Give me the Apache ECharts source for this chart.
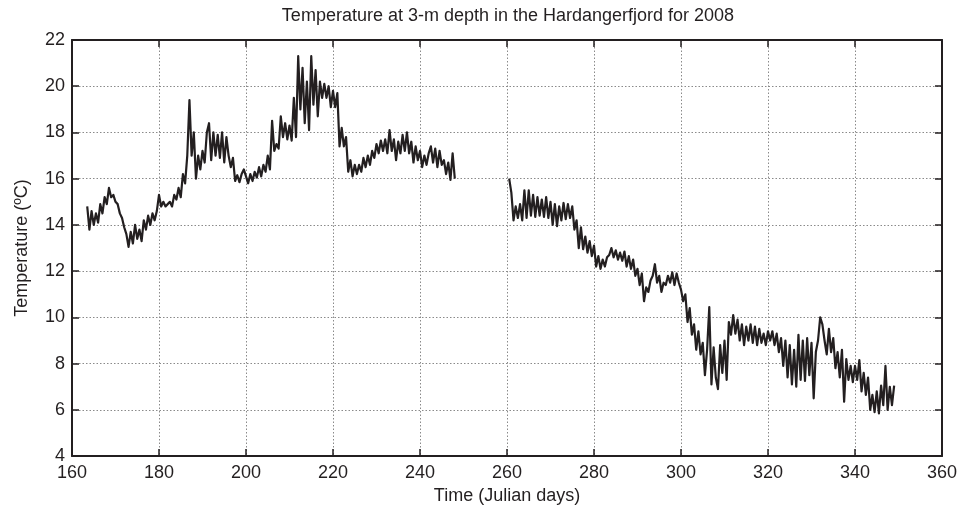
<!DOCTYPE html>
<html>
<head>
<meta charset="utf-8">
<script src="https://cdn.jsdelivr.net/npm/echarts@6/dist/echarts.min.js"></script>
<style>
  html, body { margin: 0; padding: 0; background: #fff; }
  #chart { width: 963px; height: 510px; }
</style>
</head>
<body>
<div id="chart"></div>
<script>
  // sampling: every half day, first segment starts day 163.5, second 260.5
  const start1 = 163.5
  const start2 = 260.5
  const step = 0.5

  // temperature readings (ºC), first segment (day 163.5 - 248)
  const temps1 = [
    14.8, 13.8, 14.6, 14.0, 14.5, 14.1, 14.9, 14.5, 15.2, 14.9,
    15.6, 15.2, 15.3, 15.0, 14.9, 14.5, 14.3, 13.9, 13.6, 13.05,
    13.7, 13.2, 14.0, 13.4, 13.8, 13.3, 14.2, 13.8, 14.4, 14.0,
    14.5, 14.2, 14.6, 15.3, 14.8, 15.0, 14.8, 14.9, 15.0, 14.8,
    15.3, 15.1, 15.6, 15.2, 16.2, 15.8, 17.0, 19.4, 17.0, 18.0,
    16.0, 17.0, 16.4, 17.2, 16.7, 18.0, 18.4, 16.8, 18.0, 17.0,
    17.9, 16.9, 18.0, 16.7, 17.8, 17.0, 16.5, 16.9, 15.9, 16.15,
    15.85, 16.2, 16.4, 16.1, 15.8, 16.2, 15.9, 16.3, 16.05, 16.5,
    16.1, 16.6, 16.3, 17.0, 16.4, 18.5, 17.2, 17.5, 17.3, 18.7,
    17.8, 18.4, 17.7, 18.3, 17.65, 19.5, 17.8, 21.3, 19.0, 20.8,
    18.4, 20.2, 18.1, 21.3, 19.2, 20.7, 18.7, 20.2, 19.5, 20.1,
    19.5, 20.0, 19.1, 19.8, 19.1, 19.7, 17.4, 18.2, 17.4, 17.8,
    16.3, 16.8, 16.1, 16.6, 16.2, 16.6, 16.3, 16.9, 16.5, 17.0,
    16.6, 17.2, 16.9, 17.5, 17.1, 17.65, 17.2, 17.7, 17.1, 18.1,
    17.2, 17.7, 16.8, 17.6, 17.1, 17.9, 17.2, 18.0, 17.1, 17.6,
    16.7, 17.4, 16.8, 17.2, 16.5, 17.0, 16.6, 17.1, 17.4, 16.7,
    17.3, 16.5, 17.2, 16.6, 16.8, 16.2, 16.7, 15.95, 17.1, 16.0
  ]

  // second segment (day 260.5 - 349)
  const temps2 = [
    16.0, 15.4, 14.2, 14.8, 14.3, 14.9, 14.2, 15.5, 14.3, 15.5,
    14.4, 15.3, 14.35, 15.2, 14.4, 15.1, 14.35, 15.2, 14.3, 15.0,
    14.0, 14.9, 13.95, 14.8, 14.2, 14.95, 14.25, 14.9, 14.3, 14.8,
    13.8, 14.2, 13.0, 13.9, 12.95, 13.5, 12.8, 13.3, 12.65, 13.1,
    12.2, 12.65, 12.1, 12.5, 12.2, 12.6, 12.7, 13.0, 12.6, 12.9,
    12.5, 12.8, 12.45, 12.85, 12.2, 12.65, 12.1, 12.5, 11.8, 12.1,
    11.4, 11.9, 10.7, 11.3, 11.1, 11.6, 11.8, 12.3, 11.5, 11.8,
    11.1, 11.5, 11.4, 11.8, 11.5, 11.95, 11.4, 11.9, 11.5, 11.2,
    10.7, 11.0, 9.8, 10.4, 9.25, 9.7, 8.6, 9.4, 8.4, 8.9,
    7.5, 8.6, 10.45, 7.1, 8.7, 7.4, 6.9, 8.8, 7.6, 9.0,
    7.3, 9.8, 9.25, 10.1, 9.3, 9.9, 9.0, 9.7, 8.8, 9.6,
    9.0, 9.7, 8.9, 9.6, 8.8, 9.5, 8.9, 9.3, 8.8, 9.4,
    9.0, 9.4, 8.8, 9.3, 8.5, 9.1, 7.9, 9.0, 7.4, 8.8,
    7.1, 8.6, 7.0, 9.25, 7.3, 9.0, 7.25, 9.1, 7.5, 8.9,
    6.5, 8.5, 9.0, 10.0, 9.7, 9.0, 8.4, 9.5, 8.5, 9.1,
    7.8, 8.5, 7.4, 8.6, 6.35, 8.2, 7.3, 7.9, 7.2, 7.9,
    7.3, 8.15, 6.8, 7.6, 6.65, 7.4, 6.0, 6.65, 5.9, 6.8,
    5.85, 7.05, 6.2, 7.9, 6.0, 7.0, 6.2, 7.05
  ]

  const xTicks = [160, 180, 200, 220, 240, 260, 280, 300, 320, 340, 360]
  const yTicks = [4, 6, 8, 10, 12, 14, 16, 18, 20, 22]

  function toPairs(start, temps) {
    return temps.map((t, i) => [start + i * step, t])
  }

  const ink = '#231f20'
  const font = 'Liberation Sans, Arial, sans-serif'

  let myChart = echarts.init(document.getElementById('chart'))

  let tickStyle = {
    show: true,
    inside: true,
    length: 7,
    lineStyle: { color: ink, width: 1.5 }
  }
  let gridLines = {
    show: true,
    lineStyle: { color: '#8a8a8a', type: [1.5, 2], width: 1 }
  }
  let labelStyle = {
    color: ink,
    fontSize: 18,
    fontFamily: font
  }

  let option = {
    animation: false,
    backgroundColor: '#fff',
    title: {
      text: 'Temperature at 3-m depth in the Hardangerfjord for 2008',
      left: 503,
      textAlign: 'center',
      top: 2,
      textStyle: {
        color: ink,
        fontSize: 18,
        fontWeight: 'normal',
        fontFamily: font
      }
    },
    grid: {
      left: 72,
      right: 21,
      top: 40,
      bottom: 51
    },
    xAxis: [
      {
        type: 'value',
        min: xTicks[0],
        max: xTicks[xTicks.length - 1],
        interval: 20,
        name: 'Time (Julian days)',
        nameLocation: 'middle',
        nameGap: 30,
        nameTextStyle: { color: ink, fontSize: 18, fontFamily: font },
        axisLine: { show: true, onZero: false, lineStyle: { color: ink, width: 2 } },
        axisTick: tickStyle,
        axisLabel: Object.assign({ margin: 8 }, labelStyle),
        splitLine: gridLines
      },
      {
        type: 'value',
        position: 'top',
        min: xTicks[0],
        max: xTicks[xTicks.length - 1],
        interval: 20,
        axisLine: { show: true, onZero: false, lineStyle: { color: ink, width: 2 } },
        axisTick: tickStyle,
        axisLabel: { show: false },
        splitLine: { show: false }
      }
    ],
    yAxis: [
      {
        type: 'value',
        min: yTicks[0],
        max: yTicks[yTicks.length - 1],
        interval: 2,
        name: 'Temperature (ºC)',
        nameLocation: 'middle',
        nameGap: 41,
        nameTextStyle: { color: ink, fontSize: 18, fontFamily: font },
        axisLine: { show: true, onZero: false, lineStyle: { color: ink, width: 2 } },
        axisTick: tickStyle,
        axisLabel: Object.assign({ margin: 7 }, labelStyle),
        splitLine: gridLines
      },
      {
        type: 'value',
        position: 'right',
        min: yTicks[0],
        max: yTicks[yTicks.length - 1],
        interval: 2,
        axisLine: { show: true, onZero: false, lineStyle: { color: ink, width: 2 } },
        axisTick: tickStyle,
        axisLabel: { show: false },
        splitLine: { show: false }
      }
    ],
    series: [
      {
        name: 'segment1',
        type: 'line',
        data: toPairs(start1, temps1),
        showSymbol: false,
        sampling: null,
        lineStyle: { color: ink, width: 2.2, join: 'round' },
        emphasis: { disabled: true }
      },
      {
        name: 'segment2',
        type: 'line',
        data: toPairs(start2, temps2),
        showSymbol: false,
        sampling: null,
        lineStyle: { color: ink, width: 2.2, join: 'round' },
        emphasis: { disabled: true }
      }
    ]
  }

  myChart.setOption(option)
</script>
</body>
</html>
